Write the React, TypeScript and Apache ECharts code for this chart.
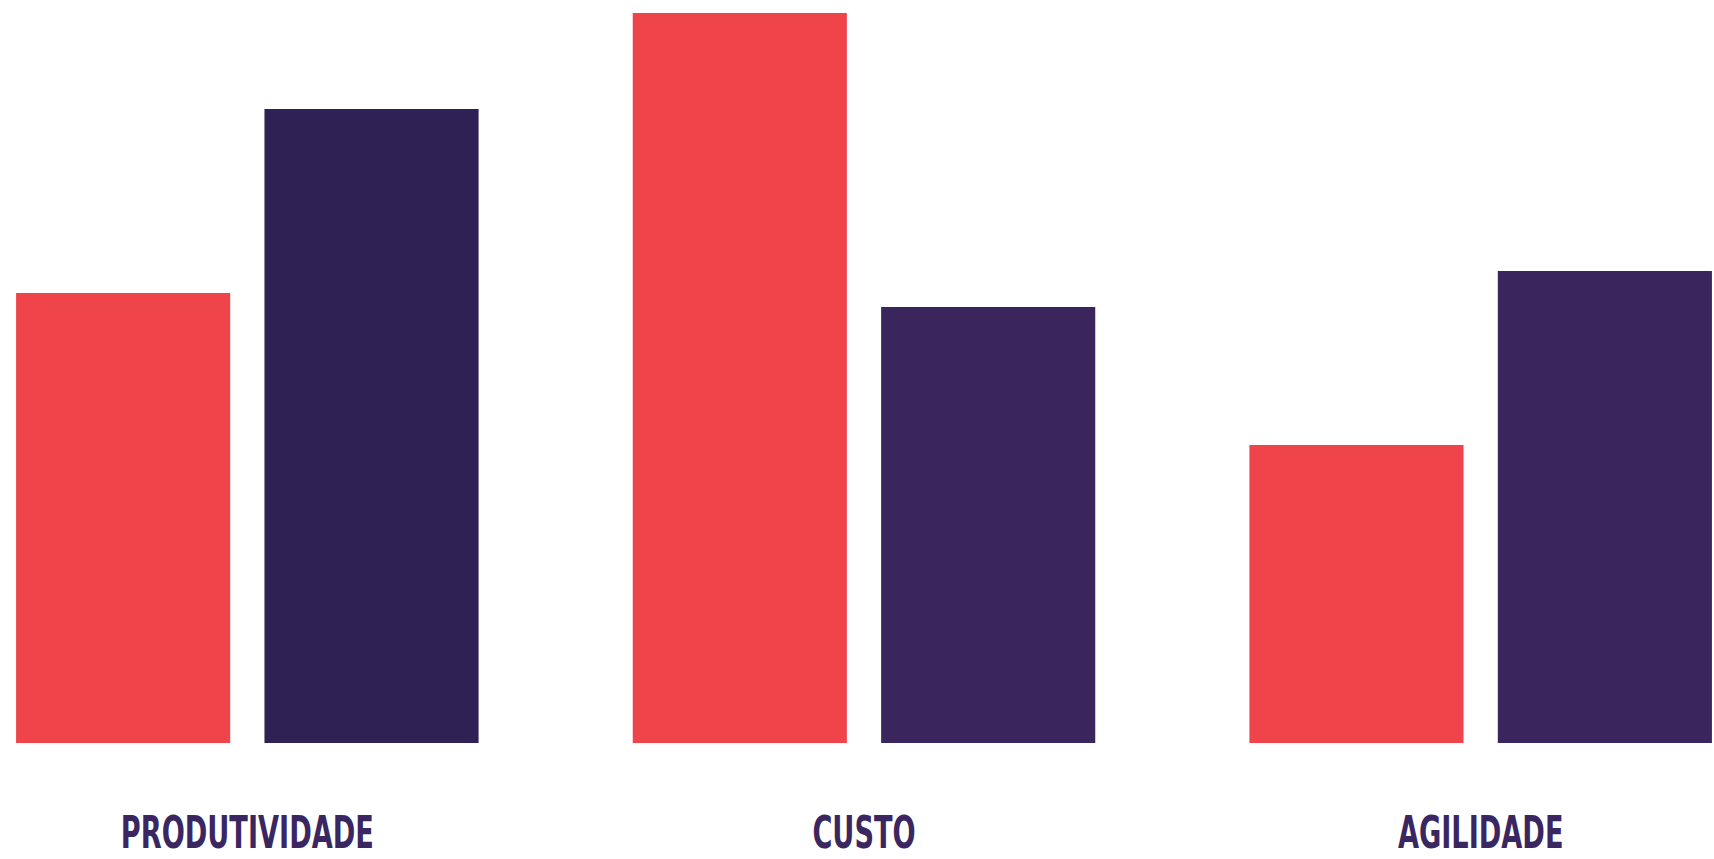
import React, { useEffect, useRef } from "react";
import * as echarts from "echarts";

const categories = ["PRODUTIVIDADE", "CUSTO", "AGILIDADE"];
const redValues = [45, 73, 29.8];
const purpleValues = [63.4, 43.6, 47.2];
const purpleColors = ["#2f2153", "#3a265d", "#3a265d"];

export default function App() {
  const ref = useRef<HTMLDivElement>(null);
  useEffect(() => {
    if (!ref.current) return;
    const chart = echarts.init(ref.current, null, { renderer: "svg" });
    chart.setOption({
      animation: false,
      backgroundColor: "#ffffff",
      grid: { left: 0, right: 0, top: 13, bottom: 116, containLabel: false },
      xAxis: {
        type: "category",
        data: categories,
        axisLine: { show: false },
        axisTick: { show: false },
        axisLabel: { show: false },
        splitLine: { show: false },
      },
      yAxis: {
        type: "value",
        min: 0,
        max: 73,
        show: false,
        splitLine: { show: false },
      },
      series: [
        {
          type: "bar",
          data: redValues,
          barCategoryGap: "25%",
          barGap: "16%",
          itemStyle: { color: "#ef444a" },
        },
        {
          type: "bar",
          data: purpleValues.map((v, i) => ({ value: v, itemStyle: { color: purpleColors[i] } })),
          barCategoryGap: "25%",
          barGap: "16%",
        },
      ],
    });
    const graphic = categories.map((c) => {
      const x = chart.convertToPixel({ xAxisIndex: 0 }, c) as number;
      return {
        type: "text",
        x,
        y: 832,
        scaleX: 0.604,
        style: {
          text: c,
          fontSize: 45,
          lineHeight: 40,
          fontFamily: "DejaVu Sans",
          fontWeight: "bold",
          fill: "#3a2660",
          textAlign: "center",
          textVerticalAlign: "middle",
        },
      };
    });
    chart.setOption({ graphic });
    return () => chart.dispose();
  }, []);
  return (
    <div
      style={{
        position: "absolute",
        left: 0,
        top: 0,
        width: 1714,
        height: 859,
        overflow: "hidden",
        background: "#ffffff",
      }}
    >
      <div
        ref={ref}
        style={{ position: "absolute", left: -61, top: 0, width: 1850, height: 859 }}
      />
    </div>
  );
}
